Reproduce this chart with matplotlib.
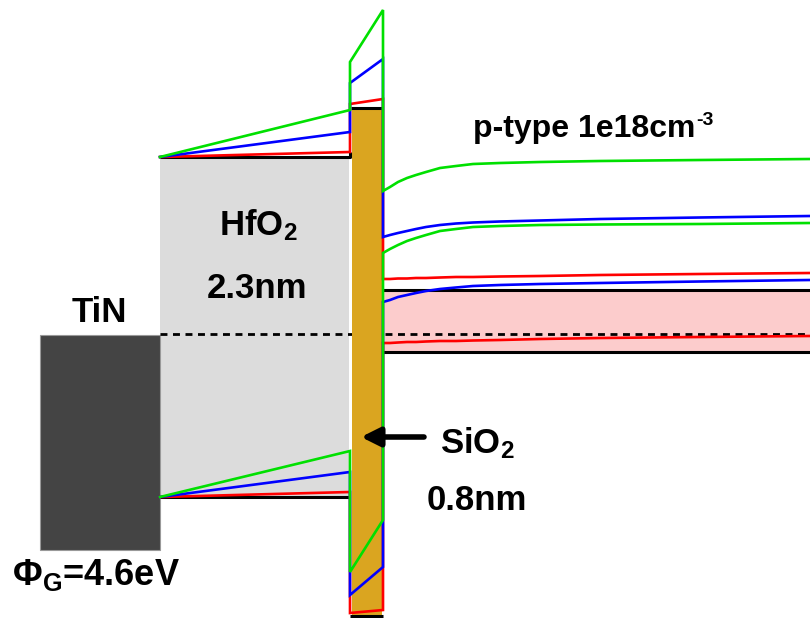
import matplotlib.pyplot as plt
from matplotlib.patches import Rectangle

plt.rcParams['font.family'] = ['Liberation Sans', 'DejaVu Sans']
plt.rcParams['mathtext.fontset'] = 'custom'
plt.rcParams['mathtext.rm'] = 'Liberation Sans:bold'
plt.rcParams['mathtext.it'] = 'Liberation Sans:bold'
plt.rcParams['mathtext.bf'] = 'Liberation Sans:bold'
plt.rcParams['mathtext.default'] = 'regular'

# layer boundaries (diagram units, x to the right, energy drawn downward)
x_metal = [40, 160]
x_hfo2 = [160, 350]
x_sio2 = [350, 383]
x_end = 810
metal_top, metal_bottom = 335, 550
e_fermi = 334

# band edges per bias: black (flat band), red, blue, green
bias_names = ['red', 'blue', 'green']
bias_colors = {'black': 'black', 'red': '#ff0000', 'blue': '#0000ff', 'green': '#00e000'}

hfo2_cb_left = 157
hfo2_vb_left = 497
hfo2_cb_right = {'black': 157, 'red': 152, 'blue': 132, 'green': 110}
hfo2_vb_right = {'black': 497, 'red': 492, 'blue': 472, 'green': 451}
sio2_cb_left = {'black': 108, 'red': 104, 'blue': 83, 'green': 62}
sio2_cb_right = {'black': 108, 'red': 99, 'blue': 59, 'green': 10}
sio2_vb_left = {'black': 616, 'red': 613, 'blue': 595, 'green': 572}
sio2_vb_right = {'black': 616, 'red': 610, 'blue': 567, 'green': 520}

# silicon band bending
si_x = [383, 390, 398, 407, 416, 426, 440, 456, 473, 500, 540, 600, 700, 810]
si_cb = {
    'black': [290] * 14,
    'red': [279, 279, 278.5, 278.5, 278, 278, 277.5, 277, 277, 276.5, 276, 275, 274, 273],
    'blue': [237, 235, 233, 231, 229, 227, 225, 223.5, 222.5, 221.5, 220.5, 219, 217.5, 216],
    'green': [191, 187, 182, 178, 175, 172, 168, 166, 164, 163, 162, 161, 160, 159],
}
si_vb = {
    'black': [352] * 14,
    'red': [343, 343, 342.5, 342, 342, 341.5, 341, 341, 340.5, 340, 339, 338, 337, 336],
    'blue': [302, 300, 297, 295, 293, 291, 289, 287.5, 286, 285, 284, 283, 281.5, 280],
    'green': [253, 249, 245, 241, 238, 235, 231, 229, 227, 226, 225, 224.5, 224, 223],
}

fig = plt.figure(figsize=(8.1, 6.18), dpi=100)
ax = fig.add_axes([0, 0, 1, 1])
ax.set_xlim(0, 810)
ax.set_ylim(618, 0)
ax.axis('off')

# regions
ax.add_patch(Rectangle((x_metal[0], metal_top), x_metal[1] - x_metal[0], metal_bottom - metal_top,
                       facecolor='#444444', edgecolor='#999999', lw=0.8, zorder=2))
ax.add_patch(Rectangle((x_hfo2[0], hfo2_cb_left), x_hfo2[1] - x_hfo2[0] - 1, hfo2_vb_left - hfo2_cb_left,
                       facecolor='#dcdcdc', edgecolor='none', zorder=1))
ax.plot([x_hfo2[0], x_end], [e_fermi, e_fermi], color='black', lw=2, ls=(0, (2.5, 2)), zorder=2)
ax.add_patch(Rectangle((x_sio2[0] + 2, sio2_cb_left['black']), x_sio2[1] - x_sio2[0] - 3, 618 - sio2_cb_left['black'],
                       facecolor='#daa520', edgecolor='none', zorder=3))
ax.fill_between(si_x, si_cb['black'], si_vb['black'], color='#fccccc', lw=0, zorder=1)

# flat-band reference (black), only the visible pieces
blk = dict(color='black', lw=2.2, zorder=4, solid_capstyle='butt')
ax.plot([x_hfo2[0], x_hfo2[1], x_hfo2[1]], [hfo2_cb_left, hfo2_cb_right['black'], hfo2_cb_right['black'] - 5], **blk)
ax.plot([x_hfo2[0], x_hfo2[1]], [hfo2_vb_left, hfo2_vb_right['black']], **blk)
ax.plot([x_sio2[0] + 1, x_sio2[1]], [sio2_cb_left['black'], sio2_cb_right['black']], **blk)
ax.plot([x_sio2[0], x_sio2[1]], [sio2_vb_left['black'], sio2_vb_right['black']], **blk)
ax.plot(si_x, si_cb['black'], **blk)
ax.plot(si_x, si_vb['black'], **blk)

for z, name in enumerate(bias_names):
    cb_x = [x_hfo2[0], x_hfo2[1], x_sio2[0], x_sio2[1], x_sio2[1]] + si_x
    cb_y = [hfo2_cb_left, hfo2_cb_right[name], sio2_cb_left[name], sio2_cb_right[name], si_cb[name][0]] + si_cb[name]
    vb_x = [x_hfo2[0], x_hfo2[1], x_sio2[0], x_sio2[1], x_sio2[1]] + si_x
    vb_y = [hfo2_vb_left, hfo2_vb_right[name], sio2_vb_left[name], sio2_vb_right[name], si_vb[name][0]] + si_vb[name]
    ax.plot(cb_x, cb_y, color=bias_colors[name], lw=1.9, zorder=5 + z, solid_joinstyle='miter')
    ax.plot(vb_x, vb_y, color=bias_colors[name], lw=1.9, zorder=5 + z, solid_joinstyle='miter')

# labels
bold = dict(fontweight='bold', va='baseline')
ax.text(99, 322, 'TiN', fontsize=25, ha='center', **bold)
ax.text(258, 235, 'HfO$_2$', fontsize=25, ha='center', **bold)
ax.text(257, 298, '2.3nm', fontsize=25, ha='center', **bold)
ax.text(440, 453, 'SiO$_2$', fontsize=25, ha='left', **bold)
ax.text(477, 510, '0.8nm', fontsize=25, ha='center', **bold)
ax.text(12, 585, r'$\Phi_G$=4.6eV', fontsize=26, ha='left', **bold)

ptype = ax.text(473, 137, 'p-type 1e18cm', fontsize=23, ha='left', **bold)
fig.canvas.draw()
bb = ptype.get_window_extent().transformed(ax.transData.inverted())
ax.text(bb.x1 + 1, 125, '-3', fontsize=14, ha='left', **bold)

ax.annotate('', xy=(361, 437), xytext=(424, 437),
            arrowprops=dict(arrowstyle='-|>', color='black', lw=4, mutation_scale=28,
                            shrinkA=0, shrinkB=0), zorder=10)

fig.savefig('out.png', dpi=100)
